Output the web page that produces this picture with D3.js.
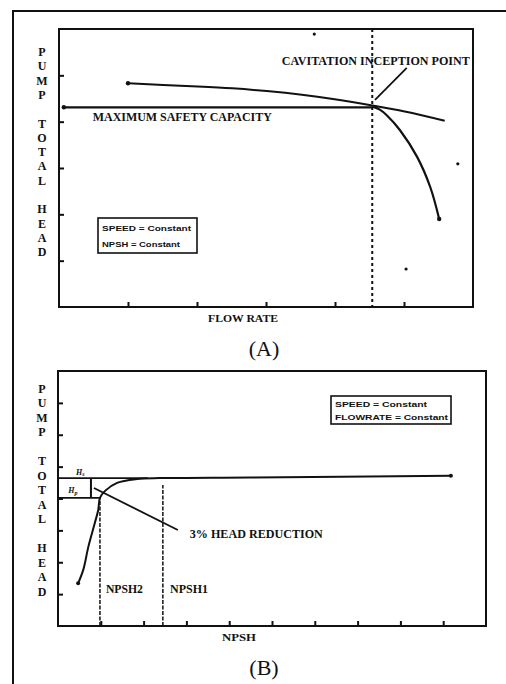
<!DOCTYPE html>
<html>
<head>
<meta charset="utf-8">
<script src="https://cdn.jsdelivr.net/npm/d3@7.9.0/dist/d3.min.js"></script>
<style>
  html, body { margin: 0; padding: 0; background: #fff; }
  svg { display: block; }
  text { font-family: "Liberation Serif", "Times New Roman", serif; fill: #111; }
  .legend text { font-family: "Liberation Sans", Arial, sans-serif; font-weight: bold; }
</style>
</head>
<body>
<svg width="506" height="684"></svg>
<script>
// ---- chart data ----
const yLabel = "PUMP TOTAL HEAD";

// panel A : head vs flow rate
const aTicksX = [1, 2, 3, 4, 5];
const aTicksY = [1, 2, 3, 4, 5];
const safetyCapacity = [[0.07, 4.31], [4.54, 4.31]];
const headCurve = [[1.0, 4.83], [1.51, 4.79], [2.01, 4.76], [2.51, 4.72], [3.01, 4.66],
                   [3.52, 4.58], [3.97, 4.49], [4.54, 4.35], [5.01, 4.22], [5.59, 4.02]];
const cavitationCurve = [[4.54, 4.33], [4.65, 4.26], [4.75, 4.14], [4.94, 3.82],
                         [5.19, 3.24], [5.38, 2.59], [5.51, 1.90]];
const inceptionFlow = 4.54;
const strayDots = [[3.70, 5.89], [5.78, 3.09], [5.03, 0.82]];
const legendA = ["SPEED = Constant", "NPSH = Constant"];

// panel B : head vs NPSH
const bTicksX = [1, 2, 3, 4, 5, 6, 7, 8, 9];
const bTicksY = [1, 2, 3, 4, 5, 6, 7];
const npshCurve = [[0.47, 1.34], [0.59, 1.76], [0.71, 2.49], [0.86, 3.23], [0.94, 3.64],
                   [0.98, 4.02], [1.10, 4.24], [1.38, 4.49], [1.85, 4.61], [2.38, 4.64],
                   [4.49, 4.66], [9.18, 4.71]];
const headHs = 4.64;
const headHp = 4.02;
const npsh2 = 0.98;
const npsh1 = 2.45;
const legendB = ["SPEED = Constant", "FLOWRATE = Constant"];

const svg = d3.select("svg");
const ink = "#111";

// outer frame (open at right and bottom)
svg.append("path")
    .attr("d", "M13,684 V11 H506")
    .attr("fill", "none").attr("stroke", ink).attr("stroke-width", 2);

function panel(o) {
    const g = svg.append("g");
    const x = d3.scaleLinear().domain(o.xDomain).range([o.left, o.right]);
    const y = d3.scaleLinear().domain(o.yDomain).range([o.bottom, o.top]);

    g.append("g")
        .attr("transform", `translate(${o.left},0)`)
        .call(d3.axisLeft(y).tickValues(o.ticksY).tickSizeInner(-5).tickSizeOuter(0).tickFormat(""))
        .call(a => a.select(".domain").remove())
        .selectAll("line").attr("stroke", ink).attr("stroke-width", 2);

    g.append("g")
        .attr("transform", `translate(0,${o.bottom})`)
        .call(d3.axisBottom(x).tickValues(o.ticksX).tickSizeInner(-5).tickSizeOuter(0).tickFormat(""))
        .call(a => a.select(".domain").remove())
        .selectAll("line").attr("stroke", ink).attr("stroke-width", 2);

    g.append("rect")
        .attr("x", o.left).attr("y", o.top)
        .attr("width", o.right - o.left).attr("height", o.bottom - o.top)
        .attr("fill", "none").attr("stroke", ink).attr("stroke-width", 2);

    // vertical axis title, one letter per row
    const letters = yLabel.split("");
    g.append("g").selectAll("text")
        .data(letters)
        .join("text")
        .attr("x", 42)
        .attr("y", (d, i) => o.labelTop + i * o.labelStep + 4)
        .attr("text-anchor", "middle")
        .attr("font-size", 12)
        .attr("font-weight", "bold")
        .text(d => d === " " ? "" : d);

    g.append("text")
        .attr("x", o.xTitle[0]).attr("y", o.xTitle[1])
        .attr("text-anchor", "middle")
        .attr("font-size", 11).attr("font-weight", "bold")
        .attr("textLength", o.xTitle[2]).attr("lengthAdjust", "spacingAndGlyphs")
        .text(o.xTitleText);

    g.append("text")
        .attr("x", 264).attr("y", o.caption)
        .attr("text-anchor", "middle")
        .attr("font-size", 22)
        .text(o.captionText);

    return {g, x, y};
}

function legend(g, lines, box, rows, widths) {
    const lg = g.append("g").attr("class", "legend");
    lg.append("rect")
        .attr("x", box[0]).attr("y", box[1]).attr("width", box[2]).attr("height", box[3])
        .attr("fill", "#fff").attr("stroke", ink).attr("stroke-width", 1.6);
    lg.selectAll("text").data(lines).join("text")
        .attr("x", box[0] + 4)
        .attr("y", (d, i) => rows[i])
        .attr("font-size", 8)
        .attr("textLength", (d, i) => widths[i]).attr("lengthAdjust", "spacingAndGlyphs")
        .text(d => d);
}

function label(g, x, y, px, py, str, len) {
    g.append("text")
        .attr("x", x(px)).attr("y", y(py))
        .attr("font-size", 11.5).attr("font-weight", "bold")
        .attr("textLength", len).attr("lengthAdjust", "spacingAndGlyphs")
        .text(str);
}

const line = (x, y) => d3.line().x(d => x(d[0])).y(d => y(d[1])).curve(d3.curveMonotoneX);
const straight = (x, y) => d3.line().x(d => x(d[0])).y(d => y(d[1]));

// ---------------- panel A ----------------
{
    const {g, x, y} = panel({
        xDomain: [0, 6], yDomain: [0, 6], left: 59, right: 473, top: 29, bottom: 307,
        ticksX: aTicksX, ticksY: aTicksY, labelTop: 52, labelStep: 14.3,
        xTitle: [243, 322, 70], xTitleText: "FLOW RATE", caption: 356, captionText: "(A)"
    });

    g.append("line")
        .attr("x1", x(inceptionFlow)).attr("x2", x(inceptionFlow))
        .attr("y1", y(6)).attr("y2", y(0))
        .attr("stroke", ink).attr("stroke-width", 2).attr("stroke-dasharray", "3,3");

    g.append("path").datum(safetyCapacity)
        .attr("d", straight(x, y))
        .attr("fill", "none").attr("stroke", ink).attr("stroke-width", 2.2);

    g.append("path").datum(headCurve)
        .attr("d", line(x, y))
        .attr("fill", "none").attr("stroke", ink).attr("stroke-width", 2);

    g.append("path").datum(cavitationCurve)
        .attr("d", d3.line().x(d => x(d[0])).y(d => y(d[1])).curve(d3.curveCatmullRom))
        .attr("fill", "none").attr("stroke", ink).attr("stroke-width", 2.2);

    g.selectAll(".end").data([safetyCapacity[0], headCurve[0], cavitationCurve[cavitationCurve.length - 1]])
        .join("circle")
        .attr("cx", d => x(d[0])).attr("cy", d => y(d[1])).attr("r", 2.2).attr("fill", ink);

    g.selectAll(".stray").data(strayDots).join("circle")
        .attr("cx", d => x(d[0])).attr("cy", d => y(d[1])).attr("r", 1.6).attr("fill", ink);

    // annotation
    g.append("path").datum([[5.04, 5.16], [4.58, 4.47]])
        .attr("d", straight(x, y))
        .attr("stroke", ink).attr("stroke-width", 1.8);
    label(g, x, y, 3.23, 5.22, "CAVITATION INCEPTION POINT", 188);
    label(g, x, y, 0.49, 4.01, "MAXIMUM SAFETY CAPACITY", 179);

    legend(g, legendA, [98, 218, 99, 35], [231, 247], [89, 78]);
}

// ---------------- panel B ----------------
{
    const {g, x, y} = panel({
        xDomain: [0, 10], yDomain: [0, 8], left: 58, right: 486, top: 371, bottom: 626,
        ticksX: bTicksX, ticksY: bTicksY, labelTop: 388.5, labelStep: 14.5,
        xTitle: [239, 641, 34], xTitleText: "NPSH", caption: 675, captionText: "(B)"
    });

    // Hs and Hp reference lines
    g.append("path").datum([[0, headHs], [2.1, headHs]])
        .attr("d", straight(x, y)).attr("stroke", ink).attr("stroke-width", 1.6);
    g.append("path").datum([[0, headHp], [npsh2, headHp]])
        .attr("d", straight(x, y)).attr("stroke", ink).attr("stroke-width", 1.6);
    g.append("path").datum([[0.77, headHp], [0.77, headHs]])
        .attr("d", straight(x, y)).attr("stroke", ink).attr("stroke-width", 2);

    // NPSH markers
    g.append("path").datum([[npsh2, 0], [npsh2, headHp]])
        .attr("d", straight(x, y)).attr("stroke", ink).attr("stroke-width", 1.5)
        .attr("stroke-dasharray", "4,1.5");
    g.append("path").datum([[npsh1, 0], [npsh1, 4.42]])
        .attr("d", straight(x, y)).attr("stroke", ink).attr("stroke-width", 1.5)
        .attr("stroke-dasharray", "4,1.5");

    g.append("path").datum(npshCurve)
        .attr("d", d3.line().x(d => x(d[0])).y(d => y(d[1])).curve(d3.curveCatmullRom))
        .attr("fill", "none").attr("stroke", ink).attr("stroke-width", 2);

    g.selectAll(".end").data([npshCurve[0], npshCurve[npshCurve.length - 1]])
        .join("circle")
        .attr("cx", d => x(d[0])).attr("cy", d => y(d[1])).attr("r", 2).attr("fill", ink);

    g.append("path").datum([[0.84, 4.33], [2.80, 3.01]])
        .attr("d", straight(x, y)).attr("stroke", ink).attr("stroke-width", 1.8);

    label(g, x, y, 3.08, 2.76, "3% HEAD REDUCTION", 133);
    label(g, x, y, 1.12, 1.04, "NPSH2", 37);
    label(g, x, y, 2.62, 1.04, "NPSH1", 38);

    // H_s and H_p tags
    const tag = (px, py, sub) => {
        const t = g.append("text")
            .attr("x", x(px)).attr("y", y(py))
            .attr("text-anchor", "middle")
            .attr("font-size", 8).attr("font-style", "italic").attr("font-weight", "bold");
        t.append("tspan").text("H");
        t.append("tspan").attr("font-size", 6).attr("dy", 1.5).text(sub);
    };
    tag(0.52, 4.74, "s");
    tag(0.35, 4.16, "p");

    legend(g, legendB, [331, 396, 120, 28], [407, 420], [92, 113]);
}
</script>
</body>
</html>
